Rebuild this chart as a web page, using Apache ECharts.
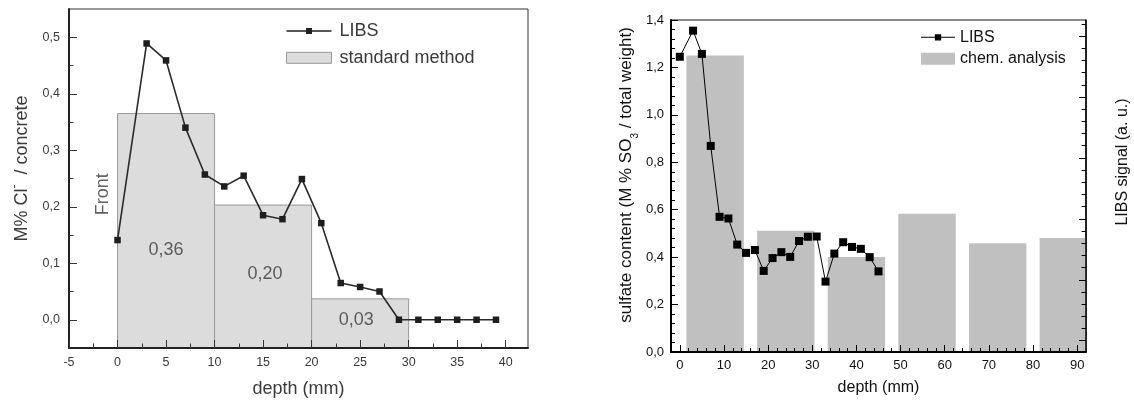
<!DOCTYPE html>
<html>
<head>
<meta charset="utf-8">
<script src="https://cdn.jsdelivr.net/npm/echarts@6/dist/echarts.min.js"></script>
<style>html,body{margin:0;padding:0;background:#fff}#c{width:1134px;height:403px}</style>
</head>
<body>
<div id="c"></div>
<script>
// ---------- Left chart data (chloride) ----------
const leftDepth = [0, 3, 5, 7, 9, 11, 13, 15, 17, 19, 21, 23, 25, 27, 29, 31, 33, 35, 37, 39];
const leftLibs  = [0.141, 0.489, 0.459, 0.340, 0.257, 0.236, 0.255, 0.185, 0.178, 0.249, 0.171, 0.065, 0.058, 0.050, 0.000, 0.000, 0.000, 0.000, 0.000, 0.000];
const leftBarStart  = [0, 10, 20];
const leftBarEnd    = [10, 20, 30];
const leftBarValues = [0.365, 0.203, 0.037];
const leftBarLabels = ['0,36', '0,20', '0,03'];
const leftXTicks = [-5, 0, 5, 10, 15, 20, 25, 30, 35, 40];
const leftYTicks = [0, 0.1, 0.2, 0.3, 0.4, 0.5];

// ---------- Right chart data (sulfate) ----------
const rightDepth = [0, 3, 5, 7, 9, 11, 13, 15, 17, 19, 21, 23, 25, 27, 29, 31, 33, 35, 37, 39, 41, 43, 45];
const rightLibs  = [1.245, 1.355, 1.257, 0.869, 0.570, 0.563, 0.453, 0.418, 0.430, 0.342, 0.396, 0.421, 0.401, 0.468, 0.486, 0.487, 0.297, 0.415, 0.463, 0.443, 0.435, 0.400, 0.340];
const rightSegmentStarts = [0, 8, 15];   // LIBS line is drawn in three separate runs
const rightBarStart  = [1.5, 17.5, 33.5, 49.5, 65.5, 81.5];
const rightBarEnd    = [14.5, 30.5, 46.5, 62.5, 78.5, 94.5];
const rightBarValues = [1.25, 0.511, 0.401, 0.583, 0.459, 0.481];
const rightXTicks = [0, 10, 20, 30, 40, 50, 60, 70, 80, 90];
const rightYTicks = [0, 0.2, 0.4, 0.6, 0.8, 1.0, 1.2, 1.4];
const rightSignalTicks = [0, 1, 2, 3, 4, 5];

// ---------- layout / style ----------
const FONT = '"Liberation Sans", Arial, Helvetica, sans-serif';
const L = {xMin: -5, xMax: 42.3, yMin: -0.05, yMax: 0.55};
const R = {xMin: -2, xMax: 92, yMin: 0, yMax: 1.4, sMin: -0.185, sMax: 5.263};
const AXZ = 10;

function steps(a, b, s) { const out = []; for (let v = a; v <= b + 1e-9; v += s) out.push(+v.toFixed(6)); return out; }
const comma1 = v => v.toFixed(1).replace('.', ',');

function makeBarRenderer(base, style) {
  return function (params, api) {
    const p0 = api.coord([api.value(0), api.value(2)]);
    const p1 = api.coord([api.value(1), base]);
    const shape = echarts.graphic.clipRectByRect(
      {x: p0[0], y: p0[1], width: p1[0] - p0[0], height: p1[1] - p0[1]},
      {x: params.coordSys.x, y: params.coordSys.y, width: params.coordSys.width, height: params.coordSys.height}
    );
    return shape && {type: 'rect', shape: shape, style: style};
  };
}

const leftBarData = leftBarStart.map((s, i) => [s, leftBarEnd[i], leftBarValues[i]]);
const rightBarData = rightBarStart.map((s, i) => [s, rightBarEnd[i], rightBarValues[i]]);
const leftLineData = leftDepth.map((d, i) => [d, leftLibs[i]]);
const rightSegments = rightSegmentStarts.map((s, k) => {
  const e = k + 1 < rightSegmentStarts.length ? rightSegmentStarts[k + 1] : rightDepth.length;
  return rightDepth.slice(s, e).map((d, j) => [d, rightLibs[s + j]]);
});

// annotation placement (text anchors inside the left chart)
const leftNotePos = [[5, 0.124], [15.2, 0.081], [24.6, 0.0]];
const frontPos = [-1.45, 0.222];

const leftTxt = '#3a3a3a';
const rightTxt = '#111';

const option = {
  animation: false,
  backgroundColor: '#fff',
  grid: [
    {left: 69, top: 9, width: 459, height: 341, show: true, borderColor: '#333', borderWidth: 1, backgroundColor: 'transparent'},
    {left: 671, top: 20, width: 415, height: 332, show: true, borderColor: '#111', borderWidth: 1, backgroundColor: 'transparent'}
  ],
  legend: [
    {
      left: 286, top: 22, orient: 'vertical', itemWidth: 45, itemHeight: 11, itemGap: 8.8, padding: 0,
      selectedMode: false,
      textStyle: {fontSize: 18, fontFamily: FONT, color: leftTxt, lineHeight: 18, padding: [0, 0, 0, 3]},
      data: [
        {name: 'LIBS', icon: 'path://M0,2.25h45v1.5h-45z M19.5,0h6v6h-6z', itemStyle: {color: '#222'}},
        {name: 'standard method', icon: 'rect', itemStyle: {color: '#dcdcdc', borderColor: '#999', borderWidth: 1}}
      ]
    },
    {
      left: 921, top: 29.3, orient: 'vertical', itemWidth: 34, itemHeight: 12, itemGap: 5.5, padding: 0,
      selectedMode: false,
      textStyle: {fontSize: 16, fontFamily: FONT, color: rightTxt, lineHeight: 16},
      data: [
        {name: 'LIBS', icon: 'path://M0,2.65h34v1h-34z M13.85,0h6.3v6.3h-6.3z', itemStyle: {color: '#000'}},
        {name: 'chem. analysis', icon: 'rect', itemStyle: {color: '#c0c0c0', borderWidth: 0}}
      ]
    }
  ],
  xAxis: [
    {
      gridIndex: 0, type: 'value', min: L.xMin, max: L.xMax, position: 'bottom', z: AXZ,
      axisLine: {onZero: false, lineStyle: {color: '#222', width: 2}},
      axisTick: {inside: true, length: 8, customValues: leftXTicks, lineStyle: {color: '#333', width: 1}},
      axisLabel: {customValues: leftXTicks, color: leftTxt, fontSize: 12.5, fontFamily: FONT, margin: 8},
      splitLine: {show: false},
      name: 'depth (mm)', nameLocation: 'middle', nameGap: 32,
      nameTextStyle: {fontSize: 18, fontFamily: FONT, color: leftTxt}
    },
    {
      gridIndex: 0, type: 'value', min: L.xMin, max: L.xMax, position: 'bottom', z: AXZ,
      axisLine: {show: false, onZero: false},
      axisTick: {inside: true, length: 4.5, customValues: steps(-2.5, 40, 5), lineStyle: {color: '#333', width: 1}},
      axisLabel: {show: false}, splitLine: {show: false}
    },
    {
      gridIndex: 1, type: 'value', min: R.xMin, max: R.xMax, position: 'bottom', z: AXZ,
      axisLine: {onZero: false, lineStyle: {color: '#000', width: 2}},
      axisTick: {inside: true, length: 7, customValues: rightXTicks, lineStyle: {color: '#000', width: 1}},
      axisLabel: {customValues: rightXTicks, color: rightTxt, fontSize: 13, fontFamily: FONT, margin: 7},
      splitLine: {show: false},
      name: 'depth (mm)', nameLocation: 'middle', nameGap: 28,
      nameTextStyle: {fontSize: 16, fontFamily: FONT, color: rightTxt}
    },
    {
      gridIndex: 1, type: 'value', min: R.xMin, max: R.xMax, position: 'bottom', z: AXZ,
      axisLine: {show: false, onZero: false},
      axisTick: {inside: true, length: 4, customValues: steps(0, 90, 2), lineStyle: {color: '#000', width: 1}},
      axisLabel: {show: false}, splitLine: {show: false}
    }
  ],
  yAxis: [
    {
      gridIndex: 0, type: 'value', min: L.yMin, max: L.yMax, position: 'left', z: AXZ,
      axisLine: {onZero: false, lineStyle: {color: '#222', width: 2}},
      axisTick: {inside: true, length: 8, customValues: leftYTicks, lineStyle: {color: '#333', width: 1}},
      axisLabel: {customValues: leftYTicks, formatter: comma1, color: leftTxt, fontSize: 12.5, fontFamily: FONT, margin: 9},
      splitLine: {show: false},
      name: '{a|M% Cl}{s|-}{a|  / concrete}', nameLocation: 'middle', nameGap: 38,
      nameTextStyle: {
        fontSize: 18, fontFamily: FONT, color: leftTxt, padding: [0, 0, 0, 20],
        rich: {a: {fontSize: 18, fontFamily: FONT, color: leftTxt, lineHeight: 22, verticalAlign: 'bottom'},
               s: {fontSize: 12, fontFamily: FONT, color: leftTxt, lineHeight: 22, verticalAlign: 'top'}}
      }
    },
    {
      gridIndex: 0, type: 'value', min: L.yMin, max: L.yMax, position: 'left', z: AXZ,
      axisLine: {show: false, onZero: false},
      axisTick: {inside: true, length: 4.5, customValues: steps(0.05, 0.45, 0.1), lineStyle: {color: '#333', width: 1}},
      axisLabel: {show: false}, splitLine: {show: false}
    },
    {
      gridIndex: 1, type: 'value', min: R.yMin, max: R.yMax, interval: 0.2, position: 'left', z: AXZ,
      axisLine: {onZero: false, lineStyle: {color: '#000', width: 2}},
      axisTick: {inside: true, length: 7, customValues: rightYTicks, lineStyle: {color: '#000', width: 1}},
      axisLabel: {customValues: rightYTicks, formatter: comma1, color: rightTxt, fontSize: 13, fontFamily: FONT, margin: 7},
      splitLine: {show: false},
      name: '{a|sulfate content (M % SO}{b|3}{a| / total weight)}', nameLocation: 'middle', nameGap: 31,
      nameTextStyle: {
        fontSize: 17, fontFamily: FONT, color: rightTxt, padding: [0, 0, 0, 22],
        rich: {a: {fontSize: 17, fontFamily: FONT, color: rightTxt, lineHeight: 22, verticalAlign: 'top'},
               b: {fontSize: 10, fontFamily: FONT, color: rightTxt, lineHeight: 22, verticalAlign: 'bottom'}}
      }
    },
    {
      gridIndex: 1, type: 'value', min: R.yMin, max: R.yMax, position: 'left', z: AXZ,
      axisLine: {show: false, onZero: false},
      axisTick: {inside: true, length: 4, customValues: steps(0.04, 1.36, 0.04), lineStyle: {color: '#000', width: 1}},
      axisLabel: {show: false}, splitLine: {show: false}
    },
    {
      gridIndex: 1, type: 'value', min: R.sMin, max: R.sMax, position: 'right', z: AXZ,
      axisLine: {onZero: false, lineStyle: {color: '#000', width: 1.5}},
      axisTick: {inside: true, length: 7, customValues: rightSignalTicks, lineStyle: {color: '#000', width: 1}},
      axisLabel: {show: false}, splitLine: {show: false},
      name: 'LIBS signal (a. u.)', nameLocation: 'middle', nameGap: 29,
      nameTextStyle: {fontSize: 16, fontFamily: FONT, color: rightTxt, padding: [0, 0, 0, 48]}
    },
    {
      gridIndex: 1, type: 'value', min: R.sMin, max: R.sMax, position: 'right', z: AXZ,
      axisLine: {show: false, onZero: false},
      axisTick: {inside: true, length: 4.5, customValues: steps(0.2, 5.2, 0.2), lineStyle: {color: '#000', width: 1}},
      axisLabel: {show: false}, splitLine: {show: false}
    }
  ],
  series: [
    {
      name: 'standard method', type: 'custom', xAxisIndex: 0, yAxisIndex: 0,
      renderItem: makeBarRenderer(L.yMin, {fill: '#dcdcdc', stroke: '#9a9a9a', lineWidth: 1}),
      itemStyle: {color: '#dcdcdc', borderColor: '#999', borderWidth: 1},
      encode: {x: [0, 1], y: 2},
      data: leftBarData, z: 1
    },
    {
      name: 'LIBS', type: 'line', xAxisIndex: 0, yAxisIndex: 0,
      data: leftLineData, symbol: 'rect', symbolSize: 6.5,
      lineStyle: {color: '#2a2a2a', width: 1.6}, itemStyle: {color: '#1e1e1e'}, z: 3
    },
    {
      name: 'notes', type: 'scatter', xAxisIndex: 0, yAxisIndex: 0, symbolSize: 0, silent: true, z: 4,
      data: leftBarLabels.map((t, i) => ({name: t, value: leftNotePos[i]})).concat([{name: 'Front', value: frontPos, label: {rotate: 90}}]),
      label: {show: true, position: 'inside', formatter: p => p.name, fontSize: 18, fontFamily: FONT, color: leftTxt}
    },
    {
      name: 'chem. analysis', type: 'custom', xAxisIndex: 2, yAxisIndex: 2,
      renderItem: makeBarRenderer(0, {fill: '#c0c0c0'}),
      itemStyle: {color: '#c0c0c0'},
      encode: {x: [0, 1], y: 2},
      data: rightBarData, z: 1
    }
  ].concat(rightSegments.map(seg => ({
    name: 'LIBS', type: 'line', xAxisIndex: 2, yAxisIndex: 2,
    data: seg, symbol: 'rect', symbolSize: 8,
    lineStyle: {color: '#000', width: 1}, itemStyle: {color: '#000'}, z: 3
  })))
};

const chart = echarts.init(document.getElementById('c'));
chart.setOption(option);
</script>
</body>
</html>
